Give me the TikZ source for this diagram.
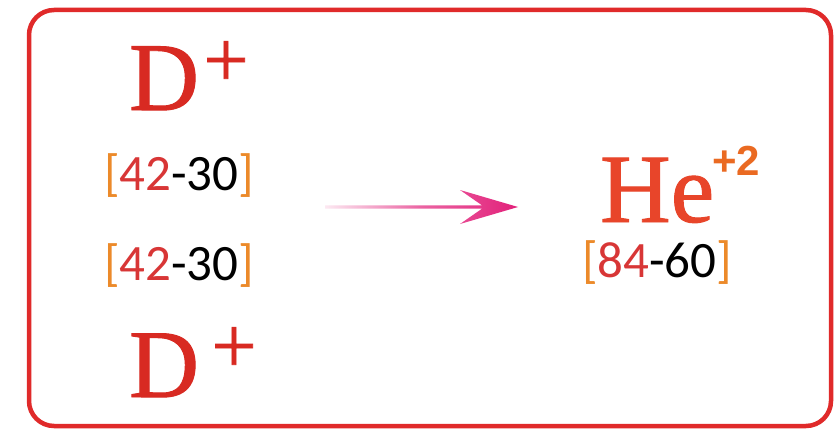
\documentclass[tikz,border=0pt]{standalone}
\usepackage{fontspec}
\setmainfont{Liberation Serif}
\newfontfamily\numfont{Carlito}
\newfontfamily\supfont{Liberation Sans}
\newfontfamily\symfont[FakeBold=1.0]{Liberation Serif}
\usetikzlibrary{calc}
\definecolor{boxred}{HTML}{E02A2A}
\definecolor{dred}{HTML}{D82A22}
\definecolor{brk}{HTML}{EC8A2A}
\definecolor{numred}{HTML}{D83636}
\definecolor{hered}{HTML}{E8452A}
\definecolor{heorange}{HTML}{EA6A22}
\definecolor{arrowpink}{HTML}{E2207A}
\tikzset{
  txt/.style={inner sep=0pt, outer sep=0pt, anchor=base west},
  bigD/.style={txt, text=dred, font=\symfont\fontsize{97}{97}\selectfont},
  plussign/.style={inner sep=0pt, anchor=center, text=dred, font=\symfont\fontsize{80}{80}\selectfont},
  rangetxt/.style={txt, font=\numfont\fontsize{51}{51}\selectfont},
  frame/.style={draw=boxred, line width=4.5pt, rounded corners=25pt}
}
\newcommand{\rng}[2]{\textcolor{brk}{[}\textcolor{numred}{#1}\textcolor{black}{-#2}\textcolor{brk}{]}}
\begin{document}
\begin{tikzpicture}[x=1pt,y=1pt]
\useasboundingbox (0,0) rectangle (835,432);
\fill[white] (0,0) rectangle (835,432);
\draw[frame] (29,422) rectangle (831,6);
% top D+
\node[bigD] (d1) at (129,322) {D};
\node[plussign] (p1) at (226,368) {+};
\node[rangetxt] (r1) at (104,242) {\rng{42}{30}};
\node[rangetxt] (r2) at (104,152) {\rng{42}{30}};
% bottom D+
\node[bigD] (d2) at (129,35) {D};
\node[plussign] (p2) at (234,82) {+};
% product
\node[txt, text=hered, font=\symfont\fontsize{98}{98}\selectfont] (he) at (600,210) {He};
\node[txt, text=heorange, font=\supfont\bfseries\fontsize{42}{42}\selectfont] (chg) at (712,257) {+2};
\node[rangetxt] (r3) at (582,155) {\rng{84}{60}};
% arrow
\coordinate (arrS) at (325,225);
\coordinate (arrE) at (518,225);
\shade[left color=arrowpink!10, right color=arrowpink, middle color=arrowpink!70]
  ($(arrS)+(0,1.7)$) -- ($(arrE)+(-36,1.7)$) -- ($(arrE)+(-58,17)$) -- (arrE)
  -- ($(arrE)+(-58,-17)$) -- ($(arrE)+(-36,-1.7)$) -- ($(arrS)+(0,-1.7)$) -- cycle;
\end{tikzpicture}
\end{document}
